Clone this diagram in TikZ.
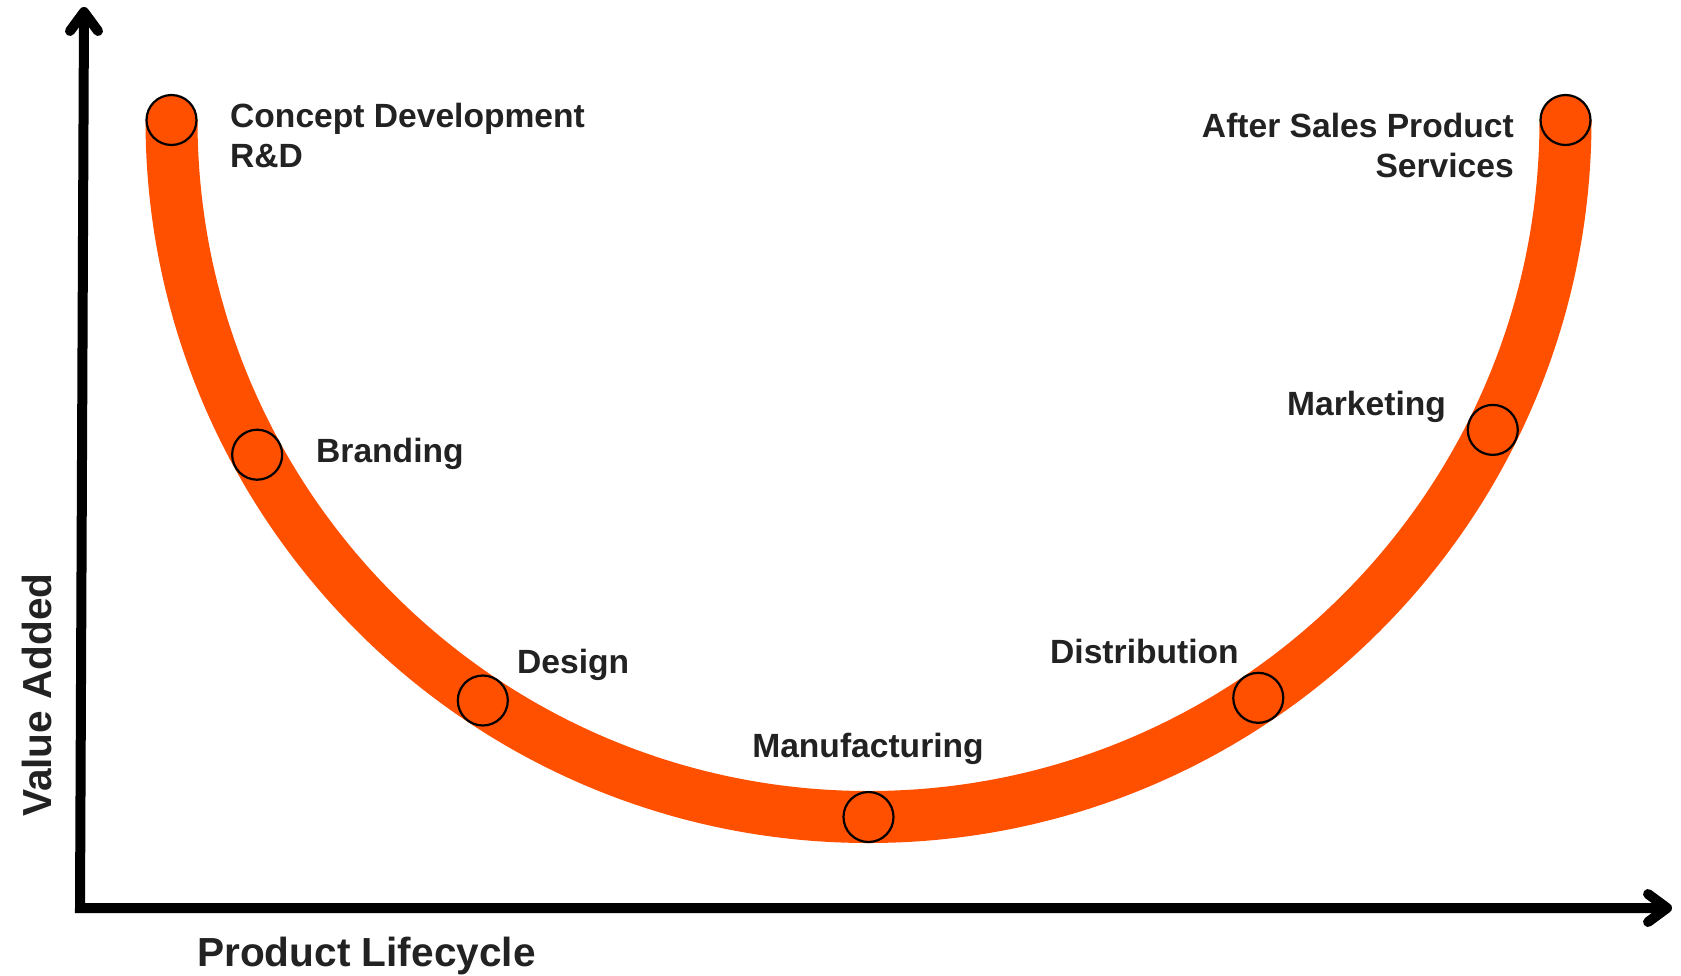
\documentclass[tikz,border=0pt]{standalone}
\usepackage{fontspec}
\setmainfont{Liberation Sans}
\usetikzlibrary{calc}
\definecolor{uorange}{HTML}{FF5000}
\definecolor{ink}{HTML}{222222}
\begin{document}
\begin{tikzpicture}[x=1pt,y=-1pt,
  axis/.style={line width=10pt, draw=black, line join=miter},
  tip/.style={line width=10pt, draw=black, line cap=round, line join=round},
  tube/.style={line width=52pt, draw=uorange},
  dot/.style={circle, minimum size=50pt, inner sep=0pt, draw=black, line width=2.2pt, fill=uorange},
  lbl/.style={text=ink, font=\fontsize{33.6}{40}\selectfont\bfseries, inner sep=0pt},
  ttl/.style={text=ink, font=\fontsize{40.6}{48}\selectfont\bfseries, inner sep=0pt}]
\useasboundingbox (0,0) rectangle (1681,975);
\fill[white] (0,0) rectangle (1681,975);
\coordinate (C) at (868.5,120);
\coordinate (origin) at (80,908);
\coordinate (ytip) at (84,12);
\coordinate (xtip) at (1667,908);
% axes
\draw[axis] (ytip) -- (origin) -- (xtip);
\draw[tip] ($(ytip)+(-14,19)$) -- (ytip) -- ($(ytip)+(14,19)$);
\draw[tip] ($(xtip)+(-19,-14)$) -- (xtip) -- ($(xtip)+(-19,14)$);
% smile curve
\draw[tube] ($(C)+(180:697)$) arc[start angle=180, end angle=0, radius=697];
% stage markers
\node[dot] (rd) at ($(C)+(180:697)$) {};
\node[dot] (brand) at ($(C)+(151.3:697)$) {};
\node[dot] (design) at ($(C)+(123.6:697)$) {};
\node[dot] (manu) at ($(C)+(90:697)$) {};
\node[dot] (dist) at ($(C)+(56:697)$) {};
\node[dot] (mkt) at ($(C)+(26.4:697)$) {};
\node[dot] (after) at ($(C)+(0:697)$) {};
% labels
\node[lbl, anchor=base west] (concept) at (230,127) {Concept Development};
\node[lbl, anchor=base west] (rdlbl) at (230,167) {R\&D};
\node[lbl, anchor=base east] (aft1) at (1514,137) {After Sales Product};
\node[lbl, anchor=base east] (aft2) at (1514,177) {Services};
\node[lbl, anchor=base west] (brandlbl) at (316,462) {Branding};
\node[lbl, anchor=base west] (designlbl) at (517,673) {Design};
\node[lbl, anchor=base] (manulbl) at (868,757) {Manufacturing};
\node[lbl, anchor=base west] (distlbl) at (1050,663) {Distribution};
\node[lbl, anchor=base west] (mktlbl) at (1287,415) {Marketing};
\node[ttl, anchor=base west] (xlbl) at (197,966) {Product Lifecycle};
\node[ttl, rotate=90, anchor=center] (ylbl) at (37,695) {Value Added};
\end{tikzpicture}
\end{document}
